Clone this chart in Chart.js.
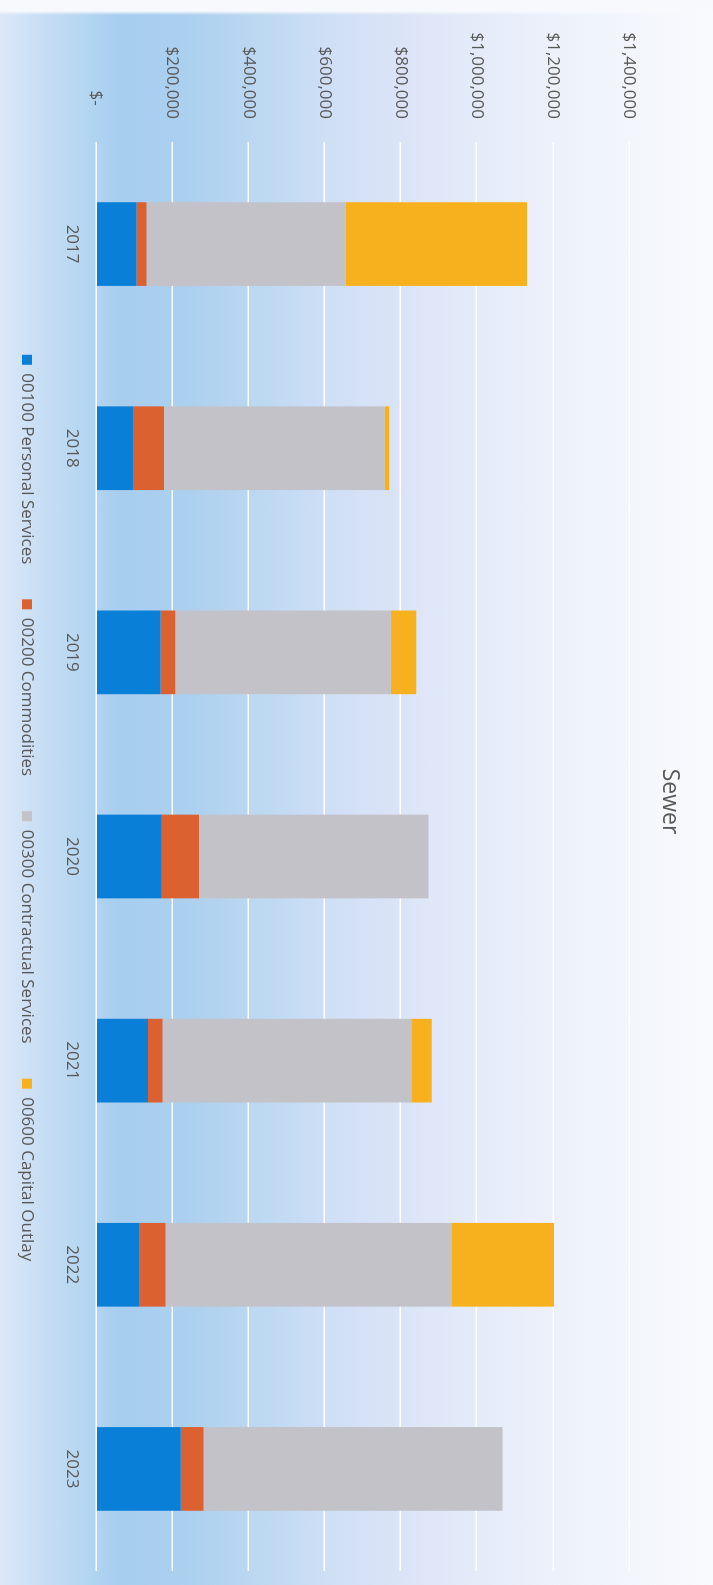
<!DOCTYPE html>
<html>
<head>
<meta charset="utf-8">
<title>Sewer</title>
<script src="https://cdn.jsdelivr.net/npm/chart.js@4/dist/chart.umd.min.js"></script>
<style>
  html, body { margin: 0; padding: 0; width: 713px; height: 1585px; overflow: hidden; }
  body {
    background:
      linear-gradient(to bottom, #f7f9fd 0px, #f7f9fd 11px, rgba(247,249,253,0) 15px),
      linear-gradient(to right, #dce8f8 0px, #c6ddf4 45px, #b4d6f1 85px, #a7cdef 120px, #acd0ef 190px,
                      #bdd8f2 260px, #cfdff6 330px, #dbe4f7 400px, #e5ebf9 480px, #eef2fb 570px,
                      #f4f7fc 650px, #f8fafd 713px);
  }
  #frame {
    position: absolute; left: 0; top: 0;
    width: 1585px; height: 713px;
    transform-origin: 0 0;
    transform: translate(713px, 0) rotate(90deg);
  }
  canvas { display: block; }
</style>
</head>
<body>
<div id="frame"><canvas id="chart" width="1585" height="713"></canvas></div>
<script>
// Fiscal years
const years = ['2017', '2018', '2019', '2020', '2021', '2022', '2023'];

// Expenditure by object class (dollars)
const personalServices    = [106000,  98000, 169000, 172000, 136000, 114000, 222000];
const commodities         = [ 26000,  80000,  39000,  98000,  38000,  68000,  60000];
const contractualServices = [523000, 580000, 566000, 603000, 654000, 753000, 786000];
const capitalOutlay       = [477000,  12000,  67000,      0,  54000, 268000,      0];

// Value axis tick labels (accounting format)
const tickValues = [0, 200000, 400000, 600000, 800000, 1000000, 1200000, 1400000];
const tickLabels = ['$-   ', '$200,000', '$400,000', '$600,000', '$800,000', '$1,000,000', '$1,200,000', '$1,400,000'];

const seriesNames  = ['00100 Personal Services', '00200 Commodities', '00300 Contractual Services', '00600 Capital Outlay'];
const seriesColors = ['#0a7fd7', '#dc6130', '#c2c2c8', '#f8b11e'];

const textColor = '#595959';
const fontFamily = "'Open Sans', 'DejaVu Sans', sans-serif";

// Centre the title and legend on the plot and pull the legend closer to the axis
const placeBlocks = {
  id: 'placeBlocks',
  afterLayout(chart) {
    const lg = chart.legend;
    if (lg) { lg.left += 22.5; lg.right += 22.5; lg.top -= 8.5; lg.bottom -= 8.5; }
    if (chart.titleBlock) { chart.titleBlock.left += 16; chart.titleBlock.right += 16; }
  }
};

const chart = new Chart(document.getElementById('chart'), {
  type: 'bar',
  data: {
    labels: years,
    datasets: [personalServices, commodities, contractualServices, capitalOutlay].map((values, i) => ({
      label: seriesNames[i],
      data: values,
      backgroundColor: seriesColors[i],
      borderWidth: 0,
      categoryPercentage: 1,
      barPercentage: 0.41
    }))
  },
  plugins: [placeBlocks],
  options: {
    responsive: false,
    devicePixelRatio: 1,
    animation: false,
    layout: { padding: { left: 0, right: 14, top: 0, bottom: 0 } },
    plugins: {
      title: {
        display: true,
        text: 'Sewer',
        color: textColor,
        font: { family: fontFamily, size: 23, weight: 'normal' },
        padding: { top: 30, bottom: 26.5 }
      },
      legend: {
        position: 'bottom',
        labels: {
          color: textColor,
          font: { family: fontFamily, size: 17 },
          boxWidth: 10,
          boxHeight: 10,
          padding: 35
        }
      },
      tooltip: { enabled: false }
    },
    scales: {
      x: {
        stacked: true,
        afterFit: (scale) => { scale.height = 34.2; },
        grid: { display: false, drawTicks: false },
        border: { display: false },
        ticks: { color: textColor, font: { family: fontFamily, size: 17 }, padding: 14 }
      },
      y: {
        stacked: true,
        min: 0,
        max: 1400000,
        afterFit: (scale) => { scale.width = 142; },
        afterBuildTicks: (scale) => { scale.ticks = tickValues.map(v => ({ value: v })); },
        grid: { color: 'rgba(255,255,255,0.95)', lineWidth: 1.5, drawTicks: false },
        border: { display: false },
        ticks: {
          color: textColor,
          font: { family: fontFamily, size: 17 },
          padding: 23,
          callback: (value) => tickLabels[tickValues.indexOf(value)]
        }
      }
    }
  }
});
</script>
</body>
</html>
